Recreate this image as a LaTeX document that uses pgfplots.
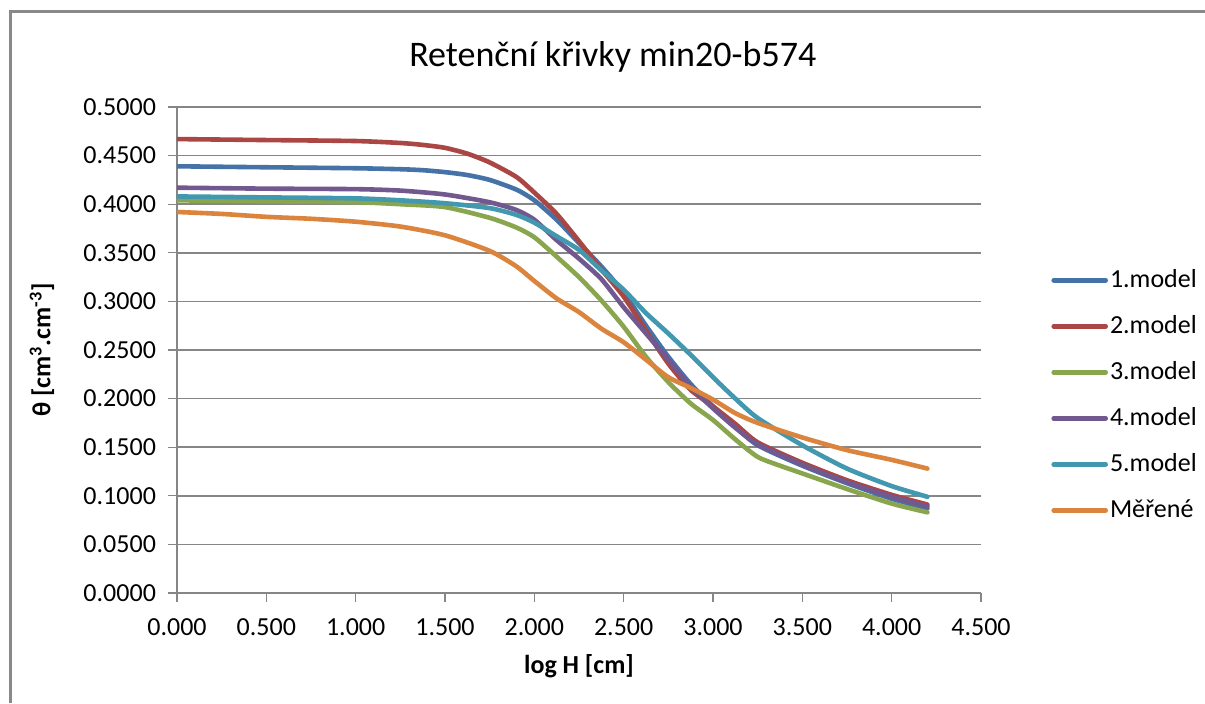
\documentclass[border=0pt]{standalone}
\usepackage{fontspec}
\setmainfont{Carlito}
\usepackage{pgfplots}
\pgfplotsset{compat=1.18}

\definecolor{s1}{HTML}{4572A7}
\definecolor{s2}{HTML}{AA4643}
\definecolor{s3}{HTML}{89A54E}
\definecolor{s4}{HTML}{71588F}
\definecolor{s5}{HTML}{4198AF}
\definecolor{s6}{HTML}{DB843D}
\definecolor{gridgray}{HTML}{868686}
\definecolor{framegray}{HTML}{898989}

\newcommand\tfont{\fontsize{13}{15}\selectfont}

\begin{document}
\begin{tikzpicture}
\path[use as bounding box] (0,0) rectangle (602.5pt,351.5pt);
\draw[framegray, line width=1.5pt] (5pt,0) -- (5pt,345.5pt) -- (602.5pt,345.5pt);

\begin{axis}[
	at={(88.5pt,55pt)}, anchor=south west,
	scale only axis, width=402pt, height=243pt,
	xmin=0, xmax=4.5, ymin=0, ymax=0.5,
	axis x line*=bottom, axis y line*=left,
	axis line style={gridgray, line width=0.6pt, -},
	xtick={0,0.5,1,1.5,2,2.5,3,3.5,4,4.5},
	ytick={0,0.05,0.1,0.15,0.2,0.25,0.3,0.35,0.4,0.45,0.5},
	tick align=outside, major tick length=4.5pt,
	tick style={gridgray, line width=0.6pt},
	ymajorgrids, grid style={gridgray, line width=0.8pt},
	/pgf/number format/assume math mode=true,
	xticklabel style={font=\tfont, yshift=-5pt, /pgf/number format/.cd, fixed, fixed zerofill, precision=3},
	yticklabel style={font=\tfont, xshift=-2.5pt, /pgf/number format/.cd, fixed, fixed zerofill, precision=4},
	title={Retenční křivky min20-b574},
	title style={font=\fontsize{18}{20}\selectfont, at={(axis description cs:0.542,1.078)}, anchor=center},
	xlabel={log H [cm]},
	xlabel style={font=\tfont\bfseries, at={(axis description cs:0.5,-0.150)}, anchor=center},
	ylabel={θ [cm\textsuperscript{3}.cm\textsuperscript{-3}]},
	ylabel style={font=\tfont\bfseries, at={(axis description cs:-0.168,0.5)}, anchor=center},
	every axis plot/.append style={line width=2.3pt, line join=round, line cap=round, smooth, tension=0.4},
	legend image code/.code={\draw[#1] (0pt,0pt) -- (26pt,0pt);},
	legend style={at={(1,0.407)}, anchor=west, xshift=32pt, draw=none, fill=none,
		font=\tfont, row sep=10.5pt, nodes={inner sep=1pt}},
	legend cell align=left,
	]

	\addplot[s1] coordinates {(0,0.439)(0.5,0.438)(1.0,0.437)(1.25,0.436)(1.375,0.435)(1.5,0.433)(1.625,0.430)(1.75,0.425)(1.9,0.415)(2.0,0.404)
		(2.125,0.384)(2.25,0.360)(2.375,0.336)(2.5,0.309)(2.625,0.275)(2.75,0.243)(2.875,0.215)(3.0,0.192)
		(3.125,0.171)(3.25,0.152)(3.5,0.131)(3.75,0.113)(4.0,0.097)(4.2,0.087)};
	\addlegendentry{1.model}
	\addplot[s2] coordinates {(0,0.467)(0.5,0.466)(1.0,0.465)(1.25,0.463)(1.375,0.461)(1.5,0.458)(1.625,0.452)(1.75,0.443)(1.9,0.428)(2.0,0.412)
		(2.125,0.390)(2.25,0.362)(2.375,0.333)(2.5,0.305)(2.625,0.270)(2.75,0.236)(2.875,0.209)(3.0,0.192)
		(3.125,0.174)(3.25,0.155)(3.5,0.134)(3.75,0.116)(4.0,0.101)(4.2,0.091)};
	\addlegendentry{2.model}
	\addplot[s3] coordinates {(0,0.404)(0.5,0.403)(1.0,0.402)(1.25,0.400)(1.5,0.397)(1.75,0.386)(1.9,0.376)(2.0,0.366)
		(2.125,0.346)(2.25,0.325)(2.375,0.301)(2.5,0.274)(2.625,0.243)(2.75,0.217)(2.875,0.195)(3.0,0.178)
		(3.125,0.158)(3.25,0.140)(3.375,0.131)(3.5,0.123)(3.75,0.107)(4.0,0.092)(4.2,0.083)};
	\addlegendentry{3.model}
	\addplot[s4] coordinates {(0,0.417)(0.5,0.416)(1.0,0.4155)(1.25,0.414)(1.5,0.410)(1.75,0.402)(1.9,0.394)(2.0,0.384)
		(2.125,0.363)(2.25,0.344)(2.375,0.323)(2.5,0.294)(2.625,0.267)(2.75,0.240)(2.875,0.212)(3.0,0.190)
		(3.125,0.170)(3.25,0.153)(3.5,0.132)(3.75,0.114)(4.0,0.099)(4.2,0.089)};
	\addlegendentry{4.model}
	\addplot[s5] coordinates {(0,0.408)(0.5,0.407)(1.0,0.406)(1.25,0.404)(1.5,0.401)(1.75,0.396)(1.9,0.389)(2.0,0.381)
		(2.125,0.367)(2.25,0.353)(2.375,0.332)(2.5,0.312)(2.625,0.288)(2.75,0.267)(2.875,0.245)(3.0,0.222)
		(3.125,0.200)(3.25,0.180)(3.5,0.152)(3.75,0.128)(4.0,0.110)(4.2,0.099)};
	\addlegendentry{5.model}
	\addplot[s6] coordinates {(0,0.392)(0.25,0.390)(0.5,0.387)(0.75,0.385)(1.0,0.382)(1.25,0.377)(1.5,0.368)(1.75,0.352)
		(1.9,0.336)(2.0,0.321)(2.125,0.303)(2.25,0.289)(2.375,0.272)(2.5,0.258)(2.625,0.240)(2.75,0.222)
		(2.875,0.211)(3.0,0.199)(3.125,0.185)(3.25,0.175)(3.5,0.160)(3.75,0.147)(4.0,0.137)(4.2,0.128)};
	\addlegendentry{Měřené}

\end{axis}
\end{tikzpicture}
\end{document}
